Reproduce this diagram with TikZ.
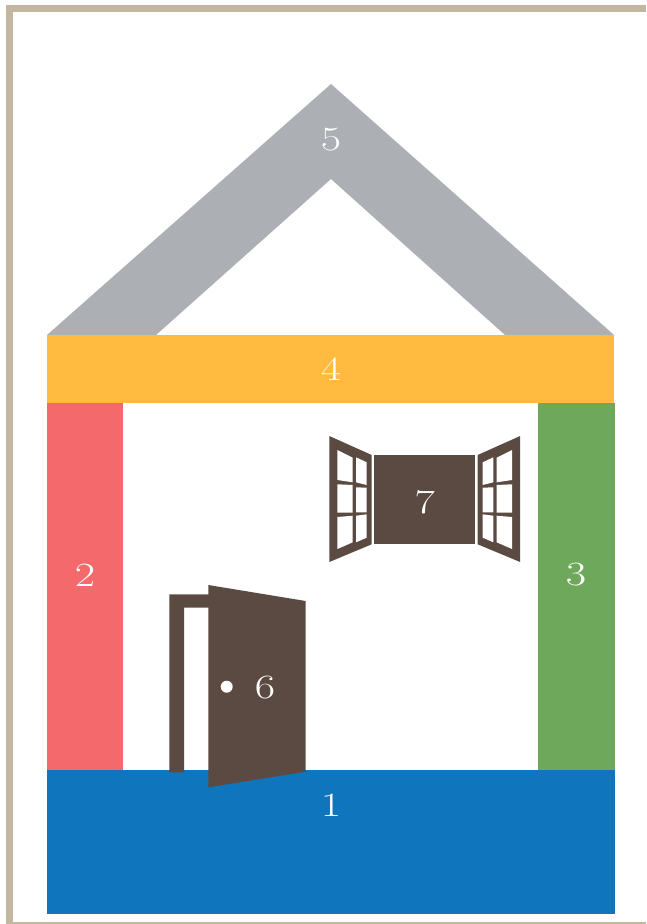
\documentclass[tikz,border=0pt]{standalone}
\usepackage{xcolor}
\definecolor{framebeige}{RGB}{196, 183, 160}
\definecolor{floorblue}{RGB}{15, 117, 188}
\definecolor{wallred}{RGB}{244, 105, 107}
\definecolor{wallgreen}{RGB}{110, 168, 90}
\definecolor{beamorange}{RGB}{255, 186, 63}
\definecolor{roofgray}{RGB}{172, 175, 180}
\definecolor{doorbrown}{RGB}{91, 74, 65}
\tikzset{
  numlabel/.style={font=\fontsize{34}{34}\selectfont, text=white, inner sep=0pt, xscale=1.3, transform shape}
}
\begin{document}
\begin{tikzpicture}[x=1pt, y=-1pt]
    \useasboundingbox (0,0) rectangle (646,924);
    \fill[framebeige] (6,5) rectangle (646,12);
    \fill[framebeige] (6,5) rectangle (13,924);
    \fill[framebeige] (6,922) rectangle (646,924);

    \fill[roofgray] (47,335) -- (331,84) -- (614,335) -- (505,335) -- (331,179) -- (156,335) -- cycle;
    \node[numlabel] (roof) at (331,140) {5};

    \fill[beamorange] (47,335) rectangle (614,403);
    \node[numlabel] (beam) at (331,369) {4};

    \fill[wallred] (47,403) rectangle (123,770);
    \node[numlabel] (leftwall) at (85,575) {2};

    \fill[wallgreen] (538,403) rectangle (615,770);
    \node[numlabel] (rightwall) at (576,575) {3};

    \fill[floorblue] (47,770) rectangle (615,914);
    \node[numlabel] (floor) at (331,805) {1};

    \fill[doorbrown] (169.3,772.3) -- (169.3,594.3) -- (215,594.3) -- (215,607.7) -- (184,607.7) -- (184,772.3) -- cycle;
    \fill[doorbrown] (208.3,585) -- (305.7,601) -- (305.7,771.7) -- (208.3,787.3) -- cycle;
    \fill[white] (226.7,686.7) circle (6);
    \node[numlabel] (door) at (265,688) {6};

    \fill[doorbrown] (374,455) rectangle (475,544.3);
    \node[numlabel] (window) at (424.7,502) {7};
    \foreach \side in {1,-1} {
        \begin{scope}[shift={(424.7,0)}, xscale=\side]
            \fill[doorbrown] (-95.4,436) -- (-53,455) -- (-53,544.3) -- (-95.4,562) -- cycle;
            \foreach \xa/\xb/\ya/\yb/\yc/\yd in {
                -87.3/-72/450/457.7/482.3/480,
                -87.3/-72/484.3/485/512.7/512.7,
                -87.3/-72/517/515.7/542.3/549,
                -68.7/-58/457.3/462.3/485/482.3,
                -68.7/-58/487.3/487.7/512.3/512.3,
                -68.7/-58/515.7/514.3/537.7/542.3} {
                \fill[white] (\xa,\ya) -- (\xb,\yb) -- (\xb,\yc) -- (\xa,\yd) -- cycle;
            }
        \end{scope}
    }
\end{tikzpicture}
\end{document}
